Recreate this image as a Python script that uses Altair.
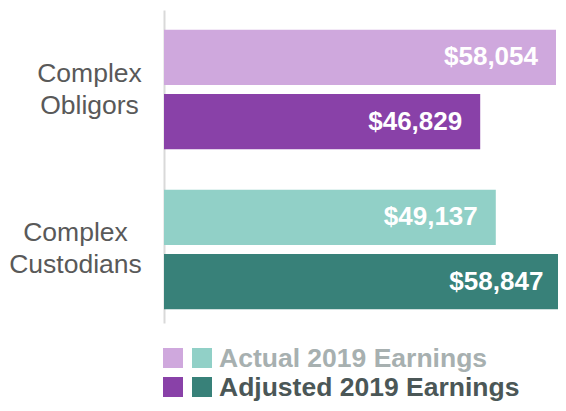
import altair as alt
import pandas as pd

# ---- data ----
groups = ["Complex Obligors", "Complex Obligors", "Complex Custodians", "Complex Custodians"]
series = ["Actual", "Adjusted", "Actual", "Adjusted"]
values = [58054, 46829, 49137, 58847]
keys = ["Obligors Actual", "Obligors Adjusted", "Custodians Actual", "Custodians Adjusted"]
bar_colors = ["#CFA8DD", "#8941A8", "#91D0C7", "#388179"]

legend_labels = ["Actual 2019 Earnings", "Adjusted 2019 Earnings"]
legend_text_colors = ["#A7B0B0", "#4B5757"]
legend_swatch_a = ["#CFA8DD", "#8941A8"]
legend_swatch_b = ["#91D0C7", "#388179"]

df = pd.DataFrame({"group": groups, "series": series, "value": values, "key": keys})

FONT = "Liberation Sans"

base = alt.Chart(df).encode(
    y=alt.Y(
        "group:N",
        sort=["Complex Obligors", "Complex Custodians"],
        scale=alt.Scale(paddingInner=0.253, paddingOuter=0.105, align=0.59),
        axis=alt.Axis(
            title=None,
            ticks=False,
            tickSize=0,
            labelExpr="split(datum.label, ' ')",
            labelAlign="center",
            labelBaseline="middle",
            labelFont=FONT,
            labelFontSize=26.5,
            labelColor="#595959",
            labelLineHeight=32,
            labelLimit=0,
            labelOffset=-16,
            labelPadding={"condition": {"test": "datum.value == 'Complex Obligors'", "value": 75}, "value": 89},
            domainColor="#D9D9D9",
            domainWidth=2,
        ),
    ),
    yOffset=alt.YOffset(
        "series:N", sort=["Actual", "Adjusted"],
        scale=alt.Scale(paddingInner=0.1385, paddingOuter=0),
    ),
    x=alt.X("value:Q", scale=alt.Scale(domain=[0, 58350], nice=False, zero=True), axis=None),
)

bars = base.mark_bar(clip=True).encode(
    color=alt.Color("key:N", scale=alt.Scale(domain=keys, range=bar_colors), legend=None)
)
bar_labels = base.mark_text(
    align="right", dx=-18, baseline="middle", font=FONT, fontSize=26,
    fontWeight="bold", color="white",
).encode(text=alt.Text("value:Q", format="$,"))

layers = [bars, bar_labels]
for i, lab in enumerate(legend_labels):
    ldf = pd.DataFrame({"label": [lab]})
    sq_a = alt.Chart(ldf).mark_square(size=400, color=legend_swatch_a[i], opacity=1).encode(
        x=alt.value(9), y=alt.value(348 + 29 * i))
    sq_b = alt.Chart(ldf).mark_square(size=400, color=legend_swatch_b[i], opacity=1).encode(
        x=alt.value(38), y=alt.value(348 + 29 * i))
    txt = alt.Chart(ldf).mark_text(
        align="left", baseline="alphabetic", font=FONT, fontSize=26.5,
        fontWeight="bold", color=legend_text_colors[i],
    ).encode(text="label:N", x=alt.value(55), y=alt.value(357 + 29 * i))
    layers += [sq_a, sq_b, txt]

chart = alt.layer(*layers).properties(
    width=394, height=313,
    autosize=alt.AutoSizeParams(type="none"),
    padding={"left": 156, "top": 2, "right": 0, "bottom": 80},
).configure_view(stroke=None)

chart.save("out.html", embed_options={"renderer": "svg", "actions": False})
